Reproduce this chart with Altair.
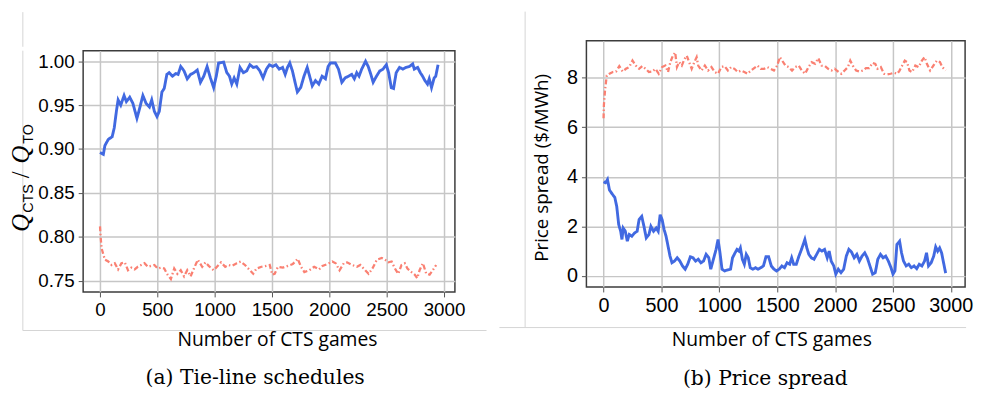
import altair as alt
import pandas as pd

# ---------------- data ----------------
x_ticks = [0, 500, 1000, 1500, 2000, 2500, 3000]
left_y_ticks = [0.75, 0.80, 0.85, 0.90, 0.95, 1.00]
right_y_ticks = [0, 2, 4, 6, 8]
captions = ["(a) Tie-line schedules", "(b) Price spread"]
x_title = "Number of CTS games"
right_y_title = "Price spread ($/MWh)"
left_y_title_parts = ["Q", "CTS", "/", "Q", "TO"]
series_names = ["blue", "red"]

left_blue_x = [0, 29, 43, 72, 106, 124, 144, 158, 181, 210,
               230, 259, 287, 322, 345, 374, 402, 431, 451, 474,
               497, 517, 540, 560, 583, 603, 632, 661, 681, 704,
               733, 761, 790, 819, 848, 876, 905, 934, 963, 991,
               1014, 1034, 1078, 1106, 1129, 1149, 1170, 1193, 1221, 1250,
               1279, 1307, 1336, 1365, 1394, 1422, 1451, 1477, 1506, 1534,
               1563, 1592, 1615, 1635, 1655, 1678, 1701, 1721, 1750, 1779,
               1807, 1828, 1851, 1879, 1908, 1937, 1966, 1989, 2009, 2052,
               2080, 2109, 2138, 2167, 2195, 2218, 2239, 2259, 2282, 2316,
               2339, 2362, 2382, 2411, 2440, 2468, 2497, 2517, 2540, 2560,
               2583, 2612, 2641, 2669, 2698, 2727, 2741, 2770, 2793, 2813,
               2833, 2856, 2871, 2891, 2914, 2928, 2948]
left_blue_y = [0.896, 0.894, 0.904, 0.911, 0.914, 0.924, 0.944, 0.956, 0.950, 0.961,
               0.954, 0.959, 0.952, 0.935, 0.946, 0.961, 0.952, 0.948, 0.956, 0.943,
               0.937, 0.943, 0.965, 0.969, 0.985, 0.987, 0.983, 0.986, 0.985, 0.994,
               0.989, 0.980, 0.985, 0.987, 0.990, 0.976, 0.983, 0.994, 0.981, 0.970,
               0.983, 0.998, 0.999, 0.987, 0.983, 0.974, 0.981, 0.974, 0.993, 0.987,
               0.989, 0.996, 0.993, 0.994, 0.989, 0.981, 0.991, 0.996, 0.994, 0.996,
               0.991, 0.993, 0.985, 0.993, 0.998, 0.989, 0.976, 0.965, 0.970, 0.983,
               0.993, 0.983, 0.972, 0.978, 0.974, 0.983, 0.980, 0.994, 0.998, 0.998,
               0.991, 0.976, 0.981, 0.983, 0.985, 0.980, 0.987, 0.983, 0.991, 1.000,
               0.994, 0.985, 0.976, 0.983, 0.989, 0.991, 0.996, 0.987, 0.970, 0.969,
               0.987, 0.993, 0.991, 0.993, 0.994, 0.997, 0.991, 0.993, 0.987, 0.983,
               0.978, 0.974, 0.980, 0.970, 0.981, 0.983, 0.996]

left_red_x = [0, 6, 14, 29, 43, 72, 101, 129, 158, 187,
              216, 244, 273, 302, 330, 359, 388, 417, 445, 474,
              503, 532, 560, 589, 618, 647, 675, 704, 733, 761,
              790, 819, 853, 891, 920, 948, 991, 1020, 1055, 1092,
              1121, 1149, 1193, 1227, 1264, 1307, 1336, 1365, 1408, 1451,
              1480, 1503, 1523, 1552, 1595, 1638, 1681, 1724, 1753, 1782,
              1825, 1868, 1911, 1940, 1983, 2026, 2055, 2089, 2126, 2155,
              2198, 2241, 2270, 2313, 2342, 2376, 2414, 2457, 2486, 2514,
              2543, 2572, 2601, 2629, 2658, 2681, 2716, 2744, 2767, 2787,
              2816, 2845, 2874, 2902, 2931]
left_red_y = [0.812, 0.799, 0.787, 0.780, 0.774, 0.772, 0.768, 0.770, 0.763, 0.770,
              0.771, 0.762, 0.765, 0.763, 0.766, 0.768, 0.770, 0.766, 0.767, 0.768,
              0.764, 0.765, 0.764, 0.757, 0.752, 0.764, 0.758, 0.762, 0.755, 0.762,
              0.755, 0.764, 0.774, 0.766, 0.771, 0.767, 0.762, 0.766, 0.771, 0.766,
              0.768, 0.767, 0.770, 0.772, 0.768, 0.762, 0.758, 0.764, 0.766, 0.767,
              0.768, 0.757, 0.758, 0.766, 0.765, 0.767, 0.769, 0.775, 0.766, 0.760,
              0.762, 0.766, 0.763, 0.767, 0.769, 0.772, 0.770, 0.762, 0.770, 0.771,
              0.768, 0.766, 0.768, 0.762, 0.758, 0.764, 0.774, 0.776, 0.774, 0.771,
              0.772, 0.764, 0.758, 0.768, 0.770, 0.764, 0.760, 0.757, 0.753, 0.762,
              0.770, 0.758, 0.757, 0.762, 0.768]

right_blue_x = [0, 17, 34, 51, 74, 97, 114, 131, 148, 159,
                170, 188, 205, 222, 244, 267, 290, 307, 330, 349,
                369, 392, 409, 432, 455, 472, 489, 506, 523, 540,
                557, 574, 591, 614, 636, 659, 682, 705, 727, 750,
                773, 795, 818, 841, 864, 886, 909, 926, 949, 972,
                989, 1006, 1023, 1045, 1074, 1097, 1114, 1136, 1153, 1170,
                1182, 1199, 1216, 1233, 1250, 1267, 1290, 1313, 1335, 1358,
                1381, 1403, 1426, 1449, 1472, 1494, 1517, 1540, 1563, 1585,
                1608, 1625, 1642, 1665, 1688, 1710, 1739, 1756, 1773, 1795,
                1818, 1841, 1864, 1886, 1909, 1932, 1949, 1966, 1989, 2006,
                2028, 2051, 2074, 2097, 2119, 2142, 2165, 2188, 2210, 2233,
                2256, 2278, 2301, 2324, 2347, 2369, 2392, 2415, 2437, 2460,
                2483, 2500, 2517, 2534, 2557, 2574, 2591, 2614, 2636, 2659,
                2682, 2705, 2727, 2750, 2773, 2790, 2807, 2830, 2852, 2869,
                2886, 2903, 2920, 2937, 2955]
right_blue_y = [3.80, 3.76, 3.89, 3.47, 3.31, 3.17, 2.80, 2.07, 1.80, 1.47,
                1.93, 1.80, 1.40, 1.67, 1.60, 1.73, 1.80, 2.27, 2.40, 2.00,
                1.53, 1.67, 2.00, 1.80, 1.93, 1.80, 2.47, 2.27, 1.87, 1.60,
                1.20, 0.80, 0.53, 0.60, 0.73, 0.60, 0.40, 0.27, 0.47, 0.77,
                0.73, 0.60, 0.67, 0.53, 0.60, 0.87, 0.73, 0.27, 0.67, 1.07,
                1.47, 0.93, 0.27, 0.20, 0.24, 0.27, 0.73, 0.93, 1.07, 1.00,
                1.13, 0.67, 0.47, 0.87, 0.73, 0.33, 0.27, 0.33, 0.27, 0.33,
                0.40, 0.77, 0.77, 0.40, 0.27, 0.20, 0.27, 0.40, 0.33, 0.53,
                0.47, 0.73, 0.47, 0.47, 0.80, 1.07, 1.47, 1.13, 0.87, 0.73,
                0.67, 0.87, 1.07, 1.00, 1.07, 0.73, 1.00, 0.60, 0.40, 0.07,
                0.27, 0.13, 0.27, 0.80, 1.07, 0.96, 0.73, 0.87, 0.60, 0.80,
                0.93, 0.73, 0.40, 0.07, 0.13, 0.67, 0.87, 0.73, 0.80, 0.60,
                0.33, 0.07, 0.20, 1.27, 1.40, 0.93, 0.60, 0.40, 0.47, 0.33,
                0.40, 0.29, 0.47, 0.40, 0.60, 0.93, 0.40, 0.53, 0.80, 1.17,
                1.00, 1.13, 0.93, 0.53, 0.11]

right_red_x = [0, 3, 14, 28, 51, 80, 108, 136, 165, 193,
               222, 250, 278, 307, 335, 364, 392, 420, 449, 477,
               506, 534, 557, 577, 599, 619, 634, 653, 676, 699,
               719, 739, 761, 784, 804, 818, 847, 875, 903, 932,
               960, 989, 1017, 1045, 1074, 1102, 1131, 1159, 1188, 1216,
               1244, 1273, 1301, 1330, 1358, 1386, 1415, 1443, 1472, 1500,
               1523, 1543, 1571, 1599, 1628, 1656, 1685, 1713, 1741, 1770,
               1798, 1827, 1855, 1883, 1912, 1940, 1969, 1997, 2026, 2054,
               2082, 2111, 2131, 2153, 2182, 2210, 2239, 2267, 2295, 2324,
               2347, 2366, 2395, 2423, 2452, 2480, 2508, 2537, 2557, 2580,
               2602, 2622, 2642, 2665, 2693, 2722, 2750, 2773, 2793, 2821,
               2849, 2878, 2906, 2926, 2955]
right_red_y = [6.36, 6.90, 7.56, 8.09, 8.16, 8.23, 8.25, 8.47, 8.25, 8.36,
               8.43, 8.69, 8.49, 8.36, 8.47, 8.36, 8.23, 8.25, 8.36, 8.16,
               8.43, 8.49, 8.23, 8.63, 8.89, 9.02, 8.43, 8.63, 8.49, 8.76,
               8.89, 8.63, 8.36, 8.63, 8.83, 8.49, 8.29, 8.49, 8.29, 8.43,
               8.23, 8.16, 8.43, 8.47, 8.29, 8.43, 8.36, 8.23, 8.29, 8.23,
               8.16, 8.29, 8.39, 8.49, 8.36, 8.36, 8.43, 8.36, 8.29, 8.49,
               8.83, 8.69, 8.49, 8.43, 8.29, 8.43, 8.49, 8.29, 8.16, 8.43,
               8.63, 8.56, 8.79, 8.49, 8.47, 8.36, 8.29, 8.36, 8.25, 8.16,
               8.29, 8.43, 8.69, 8.49, 8.29, 8.25, 8.29, 8.39, 8.39, 8.60,
               8.56, 8.36, 8.43, 8.16, 8.13, 8.16, 8.20, 8.16, 8.29, 8.49,
               8.69, 8.63, 8.29, 8.23, 8.49, 8.43, 8.69, 8.83, 8.56, 8.29,
               8.49, 8.69, 8.63, 8.43, 8.29]

# ---------------- styles ----------------
BLUE = "#4169e1"
RED = "#fa8072"
FRAME_LIGHT = "#d4d4d4"
TICK_FONT = "Liberation Sans"
TITLE_FONT = "Open Sans"
CAPTION_FONT = "DejaVu Serif"


def one_row(text=""):
    return pd.DataFrame({"t": [text]})


def rule(x1, x2, y1, y2, color=FRAME_LIGHT, opacity=1.0):
    return alt.Chart(one_row()).mark_rule(color=color, strokeWidth=1, opacity=opacity).encode(
        x=alt.value(x1), x2=alt.value(x2), y=alt.value(y1), y2=alt.value(y2))


def label(text, x, y, **kw):
    return alt.Chart(one_row(text)).mark_text(**kw).encode(
        x=alt.value(x), y=alt.value(y), text="t:N")


def lines(bx, by, rx, ry, xdom, ydom, yticks, yfmt, xsize, ysize, xaxis_kw, yaxis_kw):
    df = pd.concat([
        pd.DataFrame({"game": bx, "value": by, "s": series_names[0]}),
        pd.DataFrame({"game": rx, "value": ry, "s": series_names[1]}),
    ])
    return alt.Chart(df).mark_line(clip=True).encode(
        x=alt.X("game:Q", scale=alt.Scale(domain=xdom, nice=False, zero=False),
                axis=alt.Axis(values=x_ticks, format="d", labelFontSize=xsize,
                              labelFont=TICK_FONT, title=x_title,
                              titleFont=TITLE_FONT, titleFontSize=19.5,
                              titleFontWeight="normal", titleColor="black",
                              titleAlign="center", titleBaseline="alphabetic",
                              **xaxis_kw)),
        y=alt.Y("value:Q", scale=alt.Scale(domain=ydom, nice=False, zero=False),
                axis=alt.Axis(values=yticks, format=yfmt, labelFontSize=ysize,
                              labelFont=TICK_FONT, **yaxis_kw)),
        color=alt.Color("s:N", scale=alt.Scale(domain=series_names, range=[BLUE, RED]), legend=None),
        strokeDash=alt.StrokeDash("s:N", scale=alt.Scale(domain=series_names,
                                  range=[[1, 0], [5, 2.5, 1.5, 2.5]]), legend=None),
        strokeWidth=alt.StrokeWidth("s:N", scale=alt.Scale(domain=series_names, range=[2.9, 2.3]),
                                    legend=None),
    )


# ---------------- left panel: plot area at page (82, 50), 376 x 244 ----------------
left_lines = lines(left_blue_x, left_blue_y, left_red_x, left_red_y,
                   [-147, 3095], [0.7373, 1.012], left_y_ticks, ".2f", 19, 19,
                   dict(titleX=196, titleY=54),
                   dict(title=""))

left_title = alt.layer(
    label(left_y_title_parts[0], -55, 183, angle=270, align="left", baseline="alphabetic",
          font="Liberation Serif", fontStyle="italic", fontSize=25, color="black"),
    label(left_y_title_parts[1], -51, 164, angle=270, align="left", baseline="alphabetic",
          font="Liberation Sans", fontSize=14.5, color="black"),
    label(left_y_title_parts[2], -55, 129, angle=270, align="left", baseline="alphabetic",
          font="Liberation Serif", fontSize=25, color="black"),
    label(left_y_title_parts[3], -55, 114, angle=270, align="left", baseline="alphabetic",
          font="Liberation Serif", fontStyle="italic", fontSize=25, color="black"),
    label(left_y_title_parts[4], -51, 94, angle=270, align="left", baseline="alphabetic",
          font="Liberation Sans", fontSize=14.5, color="black"),
)

left_panel = alt.layer(
    rule(-74, -73, 100, 100, opacity=0),          # layout anchor (left edge)
    rule(-61, -61, 0, 283),                       # light outer frame
    rule(-61, 408, 283, 283),
    left_lines,
    left_title,
    label(captions[0], 174, 331, font=CAPTION_FONT, fontSize=20.5, align="center",
          baseline="middle", color="black"),
).properties(width=376, height=244)

# spacer that pushes the left panel lower than the right one
left_spacer = rule(-61, -61, -29, 6).properties(
    width=1, height=5, view=alt.ViewBackground(stroke="transparent"))

left_column = alt.vconcat(left_spacer, left_panel, spacing=0)

# ---------------- right panel: plot area at page (588, 39), 383 x 249 ----------------
right_lines = lines(right_blue_x, right_blue_y, right_red_x, right_red_y,
                    [-148, 3123], [-0.45, 9.49], right_y_ticks, "d", 20, 20,
                    dict(titleX=187, titleY=59),
                    dict(title=right_y_title, titleFont=TITLE_FONT, titleFontSize=19,
                         titleFontWeight="normal", titleColor="black", titleAngle=270,
                         titleAlign="center", titleBaseline="middle",
                         titleX=-45, titleY=128))

right_panel = alt.layer(
    rule(-62, -62, -29.5, 290),                   # light outer frame (also top anchor)
    rule(-88, 384, 290, 290),
    right_lines,
    label(captions[1], 181, 342, font=CAPTION_FONT, fontSize=20.5, align="center",
          baseline="middle", color="black"),
).properties(width=383, height=249)

chart = alt.hconcat(left_column, right_panel, spacing=9).properties(
    padding=0, background="white"
).configure_view(
    stroke="#3c3c3c", strokeWidth=1.5
).configure_axis(
    grid=True, gridColor="#c6c6c6", gridWidth=1.5, domain=False,
    ticks=True, tickSize=5, tickWidth=1, tickColor="#555555",
    labelColor="black", labelPadding=4
)

chart.save("out.html", embed_options={"renderer": "svg", "actions": False})
